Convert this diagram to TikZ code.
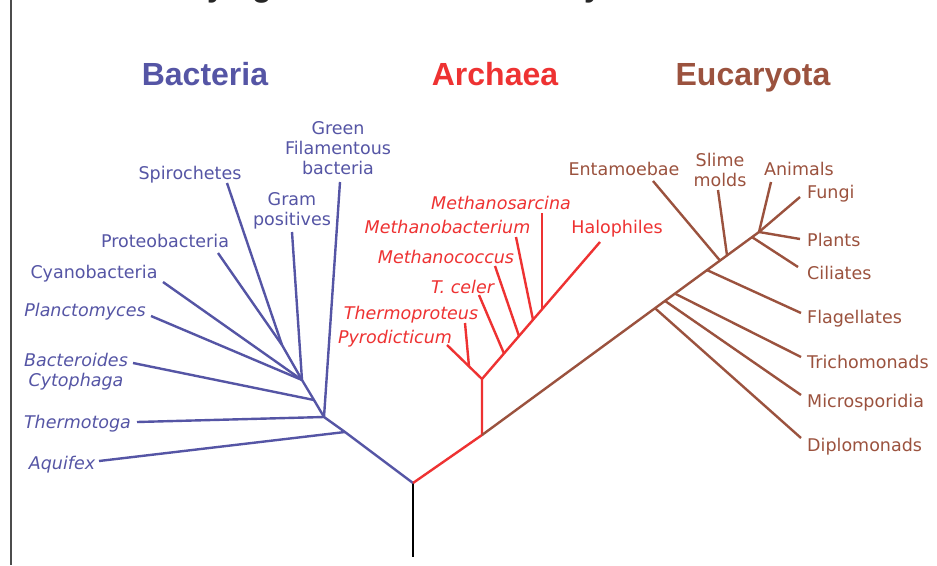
\documentclass[tikz,border=0pt]{standalone}
\usepackage{fontspec}
\setmainfont{DejaVu Sans}
\newfontfamily\titlefont{Liberation Sans}
\definecolor{bact}{RGB}{85,85,165}
\definecolor{arch}{RGB}{238,50,50}
\definecolor{euk}{RGB}{155,82,62}
\tikzset{
  lab/.style={font=\fontsize{17.5}{20}\selectfont, inner sep=0pt, anchor=base, align=center},
  ilab/.style={lab, font=\fontsize{17.5}{20}\selectfont\itshape},
  wlab/.style={lab, anchor=base west},
  grp/.style={font=\titlefont\bfseries\fontsize{32}{38}\selectfont, inner sep=0pt, anchor=base},
  bbr/.style={draw=bact, line width=2.4pt},
  abr/.style={draw=arch, line width=2.4pt},
  ebr/.style={draw=euk, line width=2.4pt},
}
\begin{document}
\begin{tikzpicture}[x=1pt,y=-1pt]
\useasboundingbox (0,0) rectangle (937,565);
\fill[white] (0,0) rectangle (937,565);
% cut-off title fragments and frame line
\begin{scope}
\clip (0,0) rectangle (937,565);
\node[grp, text=black!85] (t1) at (216,-4) {y};
\node[grp, text=black!85] (t2) at (262,-4) {g};
\node[grp, text=black!85] (t3) at (593,-4) {y};
\end{scope}
\coordinate (fr1) at (11,0);
\coordinate (fr2) at (11,565);
\draw[gray!60!black, line width=1.3pt] (fr1) -- (fr2);

% group titles
\node[grp, text=bact] (gB) at (205,85) {Bacteria};
\node[grp, text=arch] (gA) at (495,85) {Archaea};
\node[grp, text=euk]  (gE) at (753,85) {Eucaryota};

% root
\coordinate (root) at (413,483);
\coordinate (base) at (413,557);
\draw[black, line width=2.4pt] (root) -- (base);

% ---------------- Bacteria ----------------
\coordinate (bC) at (345,432);
\coordinate (bB) at (324,417);
\coordinate (bX) at (314,400);
\coordinate (bA) at (302,380);
\coordinate (bD) at (282,345);
\coordinate (spE) at (227,183);
\coordinate (gfE) at (340,182);
\coordinate (gpE) at (292,232);
\coordinate (prE) at (218,253);
\coordinate (cyE) at (163,282);
\coordinate (plE) at (151,316);
\coordinate (bcE) at (133,363);
\coordinate (thE) at (137,422);
\coordinate (aqE) at (99,461);
\draw[bbr] (root) -- (bC) -- (bB) -- (bX) -- (bA) -- (bD);
\draw[bbr] (spE) -- (bD);
\draw[bbr] (prE) -- (bD);
\draw[bbr] (gpE) -- (bA);
\draw[bbr] (cyE) -- (bA);
\draw[bbr] (plE) -- (bA);
\draw[bbr] (bcE) -- (bX);
\draw[bbr] (gfE) -- (bB);
\draw[bbr] (thE) -- (bB);
\draw[bbr] (aqE) -- (bC);

\node[lab, text=bact] (sp) at (190,179) {Spirochetes};
\node[lab, text=bact] (gf) at (338,174) {Green\\Filamentous\\bacteria};
\node[lab, text=bact] (gp) at (292,225) {Gram\\positives};
\node[lab, text=bact] (pr) at (165,247) {Proteobacteria};
\node[lab, text=bact] (cy) at (94,278) {Cyanobacteria};
\node[ilab, text=bact] (pl) at (85,316) {Planctomyces};
\node[ilab, text=bact] (bc) at (76,386) {Bacteroides\\Cytophaga};
\node[ilab, text=bact] (th) at (77.5,428) {Thermotoga};
\node[ilab, text=bact] (aq) at (62,469) {Aquifex};

% ---------------- Archaea ----------------
\coordinate (aR) at (482,435);
\coordinate (aJ) at (482,379);
\coordinate (pyE) at (447,345);
\coordinate (tpE) at (465,323);
\coordinate (tpJ) at (469,366.4);
\coordinate (haE) at (600,242);
\coordinate (tcJ) at (504,353.5);
\coordinate (mcJ) at (519,336);
\coordinate (mbJ) at (533,319.8);
\coordinate (msJ) at (542,309.3);
\coordinate (tcE) at (479,295);
\coordinate (mcE) at (495,266);
\coordinate (mbE) at (516,237);
\coordinate (msE) at (542,213);
\draw[abr] (root) -- (aR) -- (aJ) -- (haE);
\draw[abr] (pyE) -- (aJ);
\draw[abr] (tpE) -- (tpJ);
\draw[abr] (tcE) -- (tcJ);
\draw[abr] (mcE) -- (mcJ);
\draw[abr] (mbE) -- (mbJ);
\draw[abr] (msE) -- (msJ);

\node[ilab, text=arch] (ms) at (501,209) {Methanosarcina};
\node[ilab, text=arch] (mb) at (447.5,233) {Methanobacterium};
\node[ilab, text=arch] (mc) at (446,263) {Methanococcus};
\node[ilab, text=arch] (tc) at (462.5,293) {T. celer};
\node[ilab, text=arch] (tp) at (411,319) {Thermoproteus};
\node[ilab, text=arch] (py) at (395,343) {Pyrodicticum};
\node[lab, text=arch] (ha) at (617,233) {Halophiles};

% ---------------- Eucaryota ----------------
\coordinate (eT) at (759,232);
\coordinate (dpJ) at (655,308.2);
\coordinate (miJ) at (665,300.9);
\coordinate (trJ) at (675,293.6);
\coordinate (flJ) at (707,270.1);
\coordinate (enJ) at (720,260.6);
\coordinate (smJ) at (727,255.4);
\coordinate (ciJ) at (752,237.1);
\coordinate (dpE) at (801,438);
\coordinate (miE) at (801,395);
\coordinate (trE) at (801,357);
\coordinate (flE) at (801,313);
\coordinate (ciE) at (798,267);
\coordinate (ptE) at (800,239);
\coordinate (fuE) at (800,197);
\coordinate (anE) at (771,182);
\coordinate (smE) at (718,190);
\coordinate (enE) at (653,181);
\draw[ebr] (aR) -- (eT);
\draw[ebr] (dpE) -- (dpJ);
\draw[ebr] (miE) -- (miJ);
\draw[ebr] (trE) -- (trJ);
\draw[ebr] (flE) -- (flJ);
\draw[ebr] (enE) -- (enJ);
\draw[ebr] (smE) -- (smJ);
\draw[ebr] (ciE) -- (ciJ);
\draw[ebr] (ptE) -- (eT);
\draw[ebr] (fuE) -- (eT);
\draw[ebr] (anE) -- (eT);

\node[lab, text=euk] (en) at (624,175) {Entamoebae};
\node[lab, text=euk] (sm) at (720,186) {Slime\\molds};
\node[lab, text=euk] (an) at (799,175) {Animals};
\node[wlab, text=euk] (fu) at (807,198) {Fungi};
\node[wlab, text=euk] (pt) at (807,246) {Plants};
\node[wlab, text=euk] (ci) at (807,279) {Ciliates};
\node[wlab, text=euk] (fl) at (807,323) {Flagellates};
\node[wlab, text=euk] (tr) at (807,368) {Trichomonads};
\node[wlab, text=euk] (mi) at (807,407) {Microsporidia};
\node[wlab, text=euk] (dp) at (807,451) {Diplomonads};
\end{tikzpicture}
\end{document}
